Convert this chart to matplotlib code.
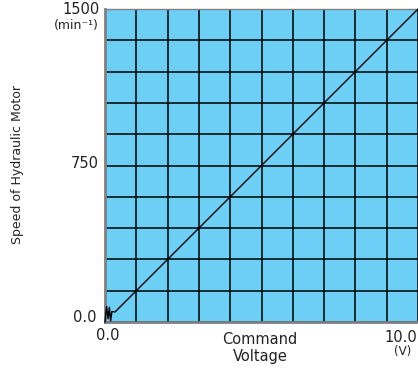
import matplotlib.pyplot as plt
import numpy as np

# Kennlinie: Drehzahl über Steuerspannung (mit Zacken am Nullpunkt)
volt = [0.0, 0.05, 0.1, 0.14, 0.18, 0.22, 0.32, 10.0]
speed = [0, 75, 15, 70, 5, 50, 48, 1500]

x_labels = ['0.0', '10.0']
y_labels = ['0.0', '750', '1500']

W, H = 418, 371
fig = plt.figure(figsize=(W / 100, H / 100), dpi=100)
ax = fig.add_axes([105 / W, 49 / H, 313 / W, 313 / H])
ax.set_facecolor('#6dcff6')

ax.plot(volt, speed, color='black', linewidth=1.0, clip_on=False, zorder=3)

ax.set_xlim(0, 10)
ax.set_ylim(0, 1500)
ax.set_xticks(np.arange(0, 11, 1))
ax.set_yticks(np.arange(0, 1501, 150))
ax.grid(True, color='black', linewidth=1.1)
ax.tick_params(length=0, labelbottom=False, labelleft=False)
for s in ax.spines.values():
    s.set_color('#808080')
    s.set_linewidth(1.0)
ax.spines['left'].set_linewidth(2)
ax.spines['bottom'].set_linewidth(2)
ax.spines['right'].set_visible(False)


def px_text(x, y, s, **kw):
    # Text in Pixelkoordinaten (oben links = 0,0)
    fig.text(x / W, 1 - y / H, s, va='center', color='#222222', **kw)


fs = 10.5
px_text(100, 10, y_labels[2], ha='right', fontsize=fs)
px_text(99, 25, '(min⁻¹)', ha='right', fontsize=9)
px_text(99, 164, y_labels[1], ha='right', fontsize=fs)
px_text(97, 318, y_labels[0], ha='right', fontsize=fs)

px_text(108, 336, x_labels[0], ha='center', fontsize=fs)
px_text(401, 337, x_labels[1], ha='center', fontsize=fs)
px_text(403, 352, '(V)', ha='center', fontsize=8.5)
px_text(260, 339, 'Command', ha='center', fontsize=fs)
px_text(260, 357, 'Voltage', ha='center', fontsize=fs)

fig.text(18 / W, 1 - 165 / H, 'Speed of Hydraulic Motor', rotation=90,
         ha='center', va='center', fontsize=9, color='#222222')

fig.savefig('out.png', dpi=100)
